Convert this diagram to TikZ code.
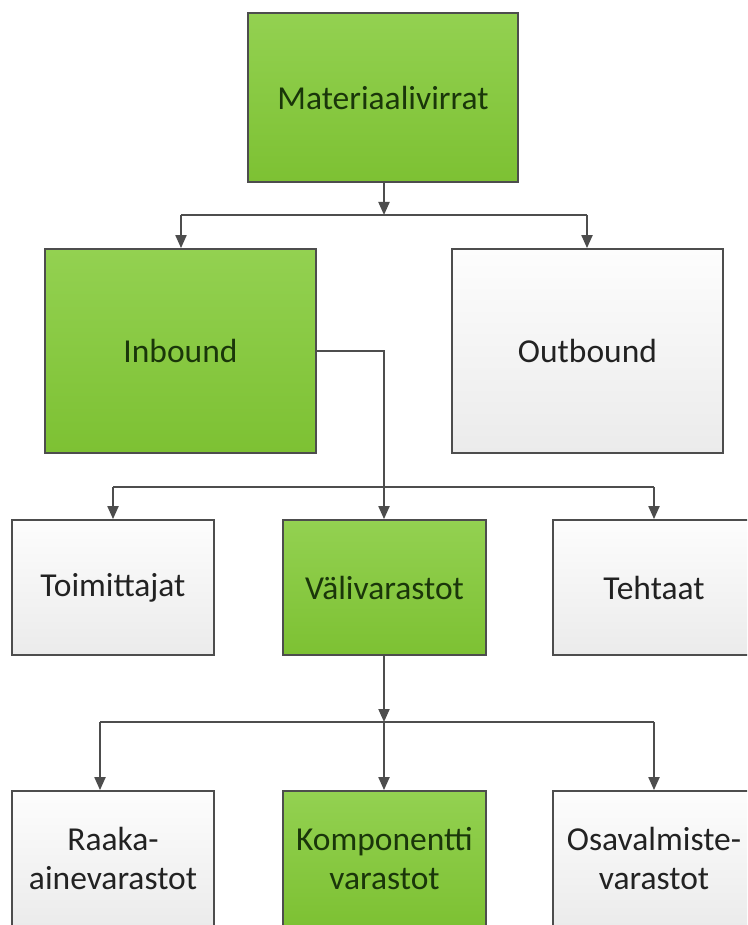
\documentclass[tikz,border=0pt]{standalone}
\usepackage{fontspec}
\setmainfont{Carlito}
\usetikzlibrary{arrows.meta}
\definecolor{greentop}{HTML}{93D151}
\definecolor{greenbot}{HTML}{7DC133}
\definecolor{greytop}{HTML}{FDFDFD}
\definecolor{greybot}{HTML}{EBEBEB}
\definecolor{edgegrey}{HTML}{4D4D4D}
\definecolor{greentext}{HTML}{1A360A}
\definecolor{greytext}{HTML}{222222}
\tikzset{
  box/.style={draw=edgegrey, line width=1.8pt, rectangle, inner sep=0pt, align=center,
    font=\fontsize{33.5}{39}\selectfont},
  greenbox/.style={box, top color=greentop, bottom color=greenbot, text=greentext},
  greybox/.style={box, top color=greytop, bottom color=greybot, text=greytext},
  conn/.style={draw=edgegrey, line width=2pt},
  arr/.style={conn, -{Triangle[length=13pt,width=11pt]}}
}
\begin{document}
\begin{tikzpicture}[x={(1pt,0)}, y={(0,-1pt)}]
\useasboundingbox (0,0) rectangle (747,925);
\clip (0,0) rectangle (747,925);
\fill[white] (0,0) rectangle (747,925);

\node[greenbox, minimum width=270pt, minimum height=169pt] (mat) at (383,97.5) {Materiaalivirrat};
\node[greenbox, minimum width=271pt, minimum height=204pt] (inb) at (180.5,351) {Inbound};
\node[greybox, minimum width=271pt, minimum height=204pt] (outb) at (587.5,351) {Outbound};

\node[greybox, minimum width=202pt, minimum height=135pt] (toim) at (113,587.5) {Toimittajat};
\node[greenbox, minimum width=203pt, minimum height=135pt] (vali) at (384.5,587.5) {Välivarastot};
\node[greybox, minimum width=202pt, minimum height=135pt] (teht) at (654,587.5) {Tehtaat};

\node[greybox, minimum width=202pt, minimum height=135pt] (raaka) at (113,858.5) {Raaka-\\ainevarastot};
\node[greenbox, minimum width=203pt, minimum height=135pt] (komp) at (384.5,858.5) {Komponentti\\varastot};
\node[greybox, minimum width=202pt, minimum height=135pt] (osa) at (654,858.5) {Osavalmiste-\\varastot};

% level 1 bus
\coordinate (b1) at (384,215);
\coordinate (b1l) at (181,215);
\coordinate (b1r) at (587,215);
\draw[arr] (mat.south -| b1) -- (b1);
\draw[conn] (b1l) -- (b1r);
\draw[arr] (b1l) -- (b1l |- inb.north);
\draw[arr] (b1r) -- (b1r |- outb.north);

% inbound to second level
\coordinate (ib) at (384,351);
\coordinate (b2l) at (113,487);
\coordinate (b2r) at (654,487);
\draw[arr] (inb.east) -- (ib) -- (ib |- vali.north);
\draw[conn] (b2l) -- (b2r);
\draw[arr] (b2l) -- (b2l |- toim.north);
\draw[arr] (b2r) -- (b2r |- teht.north);

% third level
\coordinate (b3) at (384,722);
\coordinate (b3l) at (100,722);
\coordinate (b3r) at (654,722);
\draw[arr] (vali.south -| b3) -- (b3);
\draw[conn] (b3l) -- (b3r);
\draw[arr] (b3) -- (b3 |- komp.north);
\draw[arr] (b3l) -- (b3l |- raaka.north);
\draw[arr] (b3r) -- (b3r |- osa.north);
\end{tikzpicture}
\end{document}
